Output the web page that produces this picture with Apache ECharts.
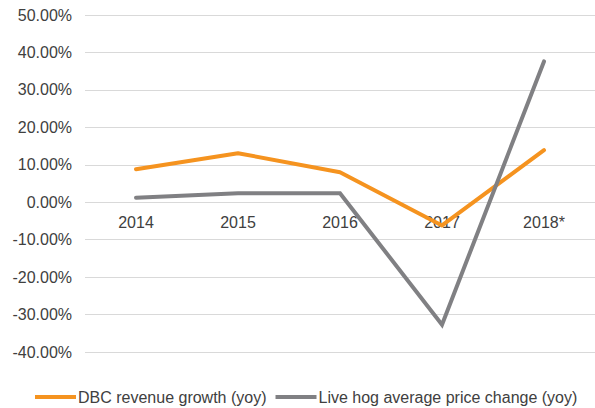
<!DOCTYPE html>
<html><head><meta charset="utf-8">
<script src="https://cdn.jsdelivr.net/npm/echarts@6/dist/echarts.min.js"></script>
<style>html,body{margin:0;padding:0;background:#fff}#c{width:595px;height:408px}</style>
</head><body><div id="c"></div>
<script>
const categories = ['2014', '2015', '2016', '2017', '2018*'];
const dbcRevenueGrowth = [8.8, 13.1, 8.0, -6.2, 13.9];
const liveHogPriceChange = [1.2, 2.4, 2.4, -32.7, 37.6];
const yTicks = { min: -40, max: 50, interval: 10 };
const seriesNames = ['DBC revenue growth (yoy)', 'Live hog average price change (yoy)'];

const font = 'Liberation Sans, Arial, sans-serif';
const textColor = '#404040';
const chart = echarts.init(document.getElementById('c'), null, { renderer: 'svg' });
chart.setOption({
  animation: false,
  backgroundColor: '#fff',
  textStyle: { fontFamily: font },
  grid: { left: 85, right: 0, top: 15, bottom: 56, containLabel: false },
  legend: {
    left: 30, top: 384,
    itemWidth: 41, itemHeight: 4, itemGap: 9,
    icon: 'rect',
    textStyle: { fontFamily: font, fontSize: 16, color: textColor, padding: [0, 0, 0, -3] },
    data: seriesNames
  },
  xAxis: {
    type: 'category', data: categories, boundaryGap: true,
    offset: -150,
    axisLine: { show: false, onZero: false },
    axisTick: { show: false },
    axisLabel: { fontFamily: font, fontSize: 16, color: textColor, margin: 12 }
  },
  yAxis: {
    type: 'value', min: yTicks.min, max: yTicks.max, interval: yTicks.interval,
    axisLine: { show: false }, axisTick: { show: false },
    splitLine: { lineStyle: { color: '#d9d9d9', width: 1 } },
    axisLabel: { fontFamily: font, fontSize: 16, color: textColor, margin: 13,
      formatter: v => v.toFixed(2) + '%' }
  },
  series: [
    { name: seriesNames[0], type: 'line', data: dbcRevenueGrowth, symbol: 'none',
      itemStyle: { color: '#F5931F' },
      lineStyle: { color: '#F5931F', width: 4, cap: 'round', join: 'round' }, z: 3 },
    { name: seriesNames[1], type: 'line', data: liveHogPriceChange, symbol: 'none',
      itemStyle: { color: '#808083' },
      lineStyle: { color: '#808083', width: 4, cap: 'round', join: 'miter' }, z: 4 }
  ]
});
</script></body></html>
